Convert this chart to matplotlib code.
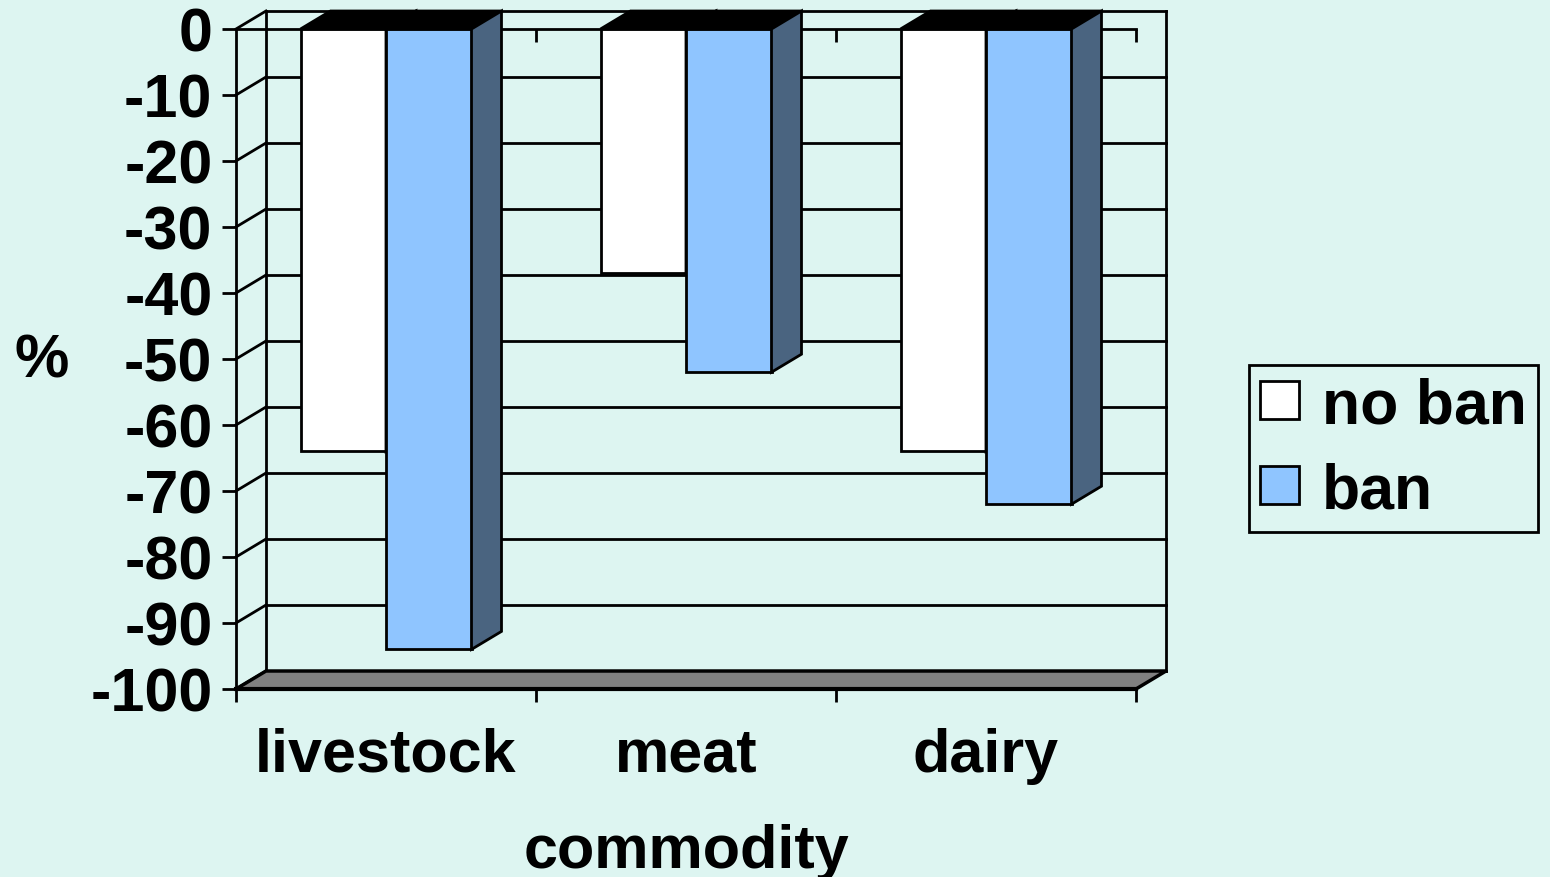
import matplotlib.pyplot as plt
from matplotlib.patches import Polygon, Patch
from matplotlib.transforms import blended_transform_factory

plt.rcParams['font.family'] = ['Liberation Sans', 'DejaVu Sans']
plt.rcParams['font.weight'] = 'bold'

# data (% change)
categories = ['livestock', 'meat', 'dairy']
no_ban = [-64, -37, -64]
ban = [-94, -52, -72]
y_ticks = list(range(0, -101, -10))
series_names = ['no ban', 'ban']

bg = '#DDF5F1'
c_white = '#FFFFFF'
c_blue = '#8FC5FF'
c_blue_side = '#4A6480'
c_floor = '#808080'

W, H = 1550, 878
fig = plt.figure(figsize=(W / 100, H / 100), dpi=100, facecolor=bg)
ax = fig.add_axes([236 / W, 1 - 690 / H, 900 / W, 660 / H])
ax.set_facecolor('none')
ax.set_xlim(-0.5, 2.5)
ax.set_ylim(-100, 0)
for s in ax.spines.values():
    s.set_visible(False)

# depth of the fake 3d in data units
dx, dy = 0.1, 18 / 6.6
x0, x1 = -0.5, 2.5
ymin = -100
lw = 2.0

# back wall grid + side wall
for y in y_ticks:
    ax.plot([x0 + dx, x1 + dx], [y + dy, y + dy], color='k', lw=lw, clip_on=False, zorder=1)
    ax.plot([x0, x0 + dx], [y, y + dy], color='k', lw=lw, clip_on=False, zorder=1)
ax.plot([x0 + dx, x0 + dx], [dy, ymin + dy], color='k', lw=lw, clip_on=False, zorder=1)
ax.plot([x1 + dx, x1 + dx], [dy, ymin + dy], color='k', lw=lw, clip_on=False, zorder=1)

# floor
ax.add_patch(Polygon([(x0, ymin), (x1, ymin), (x1 + dx, ymin + dy), (x0 + dx, ymin + dy)],
                     closed=True, facecolor=c_floor, edgecolor='k', lw=2.5, clip_on=False, zorder=2))
ax.plot([x0, x1], [ymin, ymin], color='k', lw=3, clip_on=False, zorder=2)

# front zero line and left axis
ax.plot([x0, x1], [0, 0], color='k', lw=lw, clip_on=False, zorder=2)
ax.plot([x0, x0], [0, ymin], color='k', lw=lw, clip_on=False, zorder=6)

# bars
w = 0.285
def bar3d(xl, val, face, side, z):
    ax.bar(xl + w / 2, val, width=w, color=face, edgecolor='k', lw=lw, zorder=z)
    ax.add_patch(Polygon([(xl, 0), (xl + w, 0), (xl + w + dx, dy), (xl + dx, dy)],
                         closed=True, facecolor='k', edgecolor='k', lw=lw, clip_on=False, zorder=z))
    ax.add_patch(Polygon([(xl + w, 0), (xl + w + dx, dy), (xl + w + dx, val + dy), (xl + w, val)],
                         closed=True, facecolor=side, edgecolor='k', lw=lw, clip_on=False, zorder=z))

for i in range(len(categories)):
    bar3d(i - w, no_ban[i], c_white, c_white, 3)
    bar3d(i, ban[i], c_blue, c_blue_side, 4)

# ticks
ax.set_yticks(y_ticks)
ax.set_yticklabels([str(v) for v in y_ticks])
ax.tick_params(axis='y', length=10, width=lw, pad=7, labelsize=44)
ax.set_xticks([-0.5, 0.5, 1.5, 2.5])
ax.set_xticklabels([])
ax.tick_params(axis='x', length=9, width=lw)
sec = ax.secondary_xaxis('top')
sec.set_xticks([0.5, 1.5, 2.5])
sec.set_xticklabels([])
sec.tick_params(direction='in', length=9, width=lw)
sec.spines['top'].set_visible(False)

# category labels
tr = blended_transform_factory(ax.transData, fig.transFigure)
for i, c in enumerate(categories):
    ax.text(i, 1 - 772 / H, c, transform=tr, ha='center', va='baseline', fontsize=44)

fig.text(686 / W, 1 - 868 / H, 'commodity', ha='center', va='baseline', fontsize=44)
fig.text(42 / W, 1 - 362 / H, '%', ha='center', va='center', fontsize=44)

handles = [Patch(facecolor=c_white, edgecolor='k', lw=lw), Patch(facecolor=c_blue, edgecolor='k', lw=lw)]
leg = fig.legend(handles, series_names, loc='upper left', bbox_to_anchor=(1249 / W, 1 - 366 / H),
                 frameon=True, fancybox=False, edgecolor='k', facecolor=bg, framealpha=1,
                 fontsize=45, handlelength=0.62, handleheight=0.56, handletextpad=0.36,
                 labelspacing=0.42, borderpad=0.18, borderaxespad=0)
leg.get_frame().set_linewidth(lw)

fig.savefig('out.png', dpi=100, facecolor=bg)
